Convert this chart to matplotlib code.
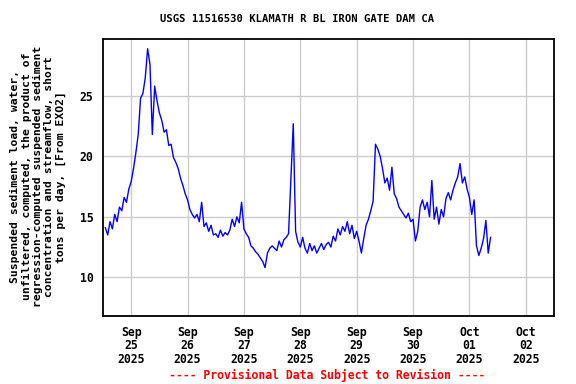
import matplotlib
matplotlib.use("Agg")
import matplotlib.pyplot as plt
import matplotlib.dates as mdates
import pandas as pd
import numpy as np

title = "USGS 11516530 KLAMATH R BL IRON GATE DAM CA"
ylabel = ("Suspended sediment load, water,\n"
          "unfiltered, computed, the product of\n"
          "regression-computed suspended sediment\n"
          "concentration and streamflow, short\n"
          "tons per day, [From EXO2]")
footer = "---- Provisional Data Subject to Revision ----"

start_time = "2025-09-24 13:00"
# hourly values
sep24 = [14.1, 13.5, 14.6, 14.0, 15.2, 14.6, 15.8, 15.5, 16.6, 16.2, 17.3]
sep25 = [17.9, 19.0, 20.3, 21.8, 24.8, 25.2, 26.5, 28.9, 27.6, 21.8, 25.8, 24.6,
         23.6, 23.0, 22.0, 22.2, 20.9, 21.0, 19.9, 19.5, 19.0, 18.2, 17.6, 16.9]
sep26 = [16.4, 15.6, 15.2, 14.9, 15.2, 14.6, 16.2, 14.2, 14.5, 13.8, 14.3, 13.5,
         13.6, 13.3, 13.9, 13.4, 13.7, 13.5, 13.9, 14.8, 14.2, 15.0, 14.5, 16.2]
sep27 = [14.0, 13.6, 13.3, 12.6, 12.4, 12.1, 11.9, 11.6, 11.3, 10.8, 12.0, 12.4,
         12.6, 12.4, 12.2, 13.0, 12.5, 13.1, 13.3, 13.6, 18.2, 22.7, 13.8, 12.9]
sep28 = [12.5, 13.3, 12.4, 12.0, 12.8, 12.2, 12.6, 12.0, 12.4, 12.8, 12.3, 12.7,
         12.9, 12.5, 13.4, 13.0, 14.0, 13.5, 14.2, 13.8, 14.6, 13.6, 14.3, 13.2]
sep29 = [13.8, 13.0, 12.0, 13.2, 14.3, 14.8, 15.5, 16.3, 21.0, 20.6, 20.0, 19.0,
         17.8, 18.2, 17.2, 19.1, 16.9, 16.5, 15.8, 15.5, 15.2, 14.9, 15.3, 14.6]
sep30 = [14.8, 13.0, 13.8, 15.8, 16.4, 15.6, 16.2, 15.0, 18.0, 14.8, 15.8, 14.4,
         15.6, 15.0, 16.5, 17.0, 16.4, 17.2, 17.8, 18.3, 19.4, 17.8, 18.3, 17.3]
oct01 = [16.6, 15.2, 16.4, 12.6, 11.8, 12.4, 13.2, 14.7, 12.0, 13.3]

values = sep24 + sep25 + sep26 + sep27 + sep28 + sep29 + sep30 + oct01
times = pd.date_range(start_time, periods=len(values), freq="h")

yticks = [10, 15, 20, 25]
xtick_dates = pd.date_range("2025-09-25", "2025-10-02", freq="D")

font = "DejaVu Sans Mono"

fig = plt.figure(figsize=(5.76, 3.84), dpi=100)
ax = fig.add_axes([0.1788, 0.1771, 0.9618 - 0.1788, 0.8984 - 0.1771])
ax.plot(times, values, color="#0000ff", linewidth=1.0)

ax.set_xlim(pd.Timestamp("2025-09-24 12:00"), pd.Timestamp("2025-10-02 12:00"))
ax.set_ylim(6.8, 29.7)
ax.set_yticks(yticks)
ax.set_xticks(xtick_dates)
ax.xaxis.set_major_formatter(mdates.DateFormatter("%b\n%d\n%Y"))
ax.grid(True, color="#cccccc", linewidth=1.0)
ax.set_axisbelow(True)
for s in ax.spines.values():
    s.set_linewidth(1.3)
    s.set_color("black")
ax.tick_params(length=0, pad=7)
for lab in ax.get_xticklabels() + ax.get_yticklabels():
    lab.set_fontfamily(font)
    lab.set_fontweight("bold")
    lab.set_fontsize(8.3)
for lab in ax.get_xticklabels():
    lab.set_linespacing(1.05)

fig.text(0.5165, 0.95, title, ha="center", va="center", fontfamily=font,
         fontweight="bold", fontsize=7.6)
fig.text(0.066, 0.54, ylabel, ha="center", va="center", rotation=90,
         fontfamily=font, fontweight="bold", fontsize=8.2, linespacing=1.15)
fig.text(0.5686, 0.023, footer, ha="center", va="center", fontfamily=font,
         fontweight="bold", fontsize=8.3, color="#ff0000")

fig.savefig("out.png", dpi=100)
